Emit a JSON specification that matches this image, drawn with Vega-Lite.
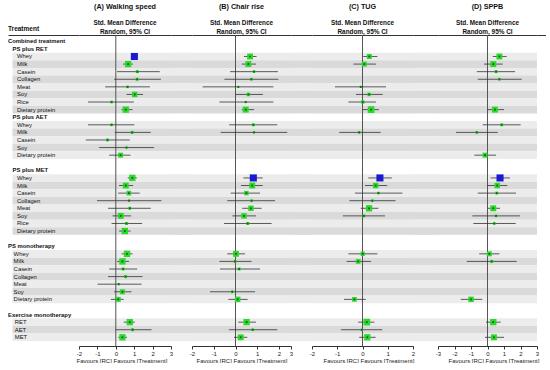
{
"$schema": "https://vega.github.io/schema/vega-lite/v6.json",
"padding": {"left": 8, "top": 3, "right": 0, "bottom": 0},
"bounds": "flush",
"spacing": 0,
"background": "white",
"config": {
 "font": "Liberation Sans",
 "view": {"stroke": null},
 "axis": {"grid": false, "domainColor": "#333", "tickColor": "#333", "labelColor": "#222", "titleColor": "#222"},
 "title": {"fontSize": 7.2, "fontWeight": "bold", "color": "#111", "subtitleFontSize": 6.4, "subtitleFontWeight": "bold", "subtitleColor": "#111", "subtitleLineHeight": 8.7, "subtitlePadding": 10, "offset": -1}
},
"datasets": {
 "rows": [
  {"key":"CT","label":"Combined treatment","lvl":0,"bold":1,"shade":0},
  {"key":"RET","label":"PS plus RET","lvl":1,"bold":1,"shade":0},
  {"key":"RET-Whey","label":"Whey","lvl":2,"bold":0,"shade":1},
  {"key":"RET-Milk","label":"Milk","lvl":2,"bold":0,"shade":2},
  {"key":"RET-Casein","label":"Casein","lvl":2,"bold":0,"shade":1},
  {"key":"RET-Collagen","label":"Collagen","lvl":2,"bold":0,"shade":2},
  {"key":"RET-Meat","label":"Meat","lvl":2,"bold":0,"shade":1},
  {"key":"RET-Soy","label":"Soy","lvl":2,"bold":0,"shade":2},
  {"key":"RET-Rice","label":"Rice","lvl":2,"bold":0,"shade":1},
  {"key":"RET-DP","label":"Dietary protein","lvl":2,"bold":0,"shade":2},
  {"key":"AET","label":"PS plus AET","lvl":1,"bold":1,"shade":0},
  {"key":"AET-Whey","label":"Whey","lvl":2,"bold":0,"shade":1},
  {"key":"AET-Milk","label":"Milk","lvl":2,"bold":0,"shade":2},
  {"key":"AET-Casein","label":"Casein","lvl":2,"bold":0,"shade":1},
  {"key":"AET-Soy","label":"Soy","lvl":2,"bold":0,"shade":2},
  {"key":"AET-DP","label":"Dietary protein","lvl":2,"bold":0,"shade":1},
  {"key":"b1","label":"","lvl":0,"bold":0,"shade":0},
  {"key":"MET","label":"PS plus MET","lvl":1,"bold":1,"shade":0},
  {"key":"MET-Whey","label":"Whey","lvl":2,"bold":0,"shade":1},
  {"key":"MET-Milk","label":"Milk","lvl":2,"bold":0,"shade":2},
  {"key":"MET-Casein","label":"Casein","lvl":2,"bold":0,"shade":1},
  {"key":"MET-Collagen","label":"Collagen","lvl":2,"bold":0,"shade":2},
  {"key":"MET-Meat","label":"Meat","lvl":2,"bold":0,"shade":1},
  {"key":"MET-Soy","label":"Soy","lvl":2,"bold":0,"shade":2},
  {"key":"MET-Rice","label":"Rice","lvl":2,"bold":0,"shade":1},
  {"key":"MET-DP","label":"Dietary protein","lvl":2,"bold":0,"shade":2},
  {"key":"b2","label":"","lvl":0,"bold":0,"shade":0},
  {"key":"MONO","label":"PS monotherapy","lvl":0,"bold":1,"shade":0},
  {"key":"MONO-Whey","label":"Whey","lvl":1.25,"bold":0,"shade":1},
  {"key":"MONO-Milk","label":"Milk","lvl":1.25,"bold":0,"shade":2},
  {"key":"MONO-Casein","label":"Casein","lvl":1.25,"bold":0,"shade":1},
  {"key":"MONO-Collagen","label":"Collagen","lvl":1.25,"bold":0,"shade":2},
  {"key":"MONO-Meat","label":"Meat","lvl":1.25,"bold":0,"shade":1},
  {"key":"MONO-Soy","label":"Soy","lvl":1.25,"bold":0,"shade":2},
  {"key":"MONO-DP","label":"Dietary protein","lvl":1.25,"bold":0,"shade":1},
  {"key":"b3","label":"","lvl":0,"bold":0,"shade":0},
  {"key":"EX","label":"Exercise monotherapy","lvl":0,"bold":1,"shade":0},
  {"key":"EX-RET","label":"RET","lvl":1.5,"bold":0,"shade":1},
  {"key":"EX-AET","label":"AET","lvl":1.5,"bold":0,"shade":2},
  {"key":"EX-MET","label":"MET","lvl":1.5,"bold":0,"shade":1}
 ],
 "est": [
  {"p":"A","key":"RET-Whey","m":1.01,"lo":0.85,"hi":1.17,"w":50,"c":"b"},
  {"p":"A","key":"RET-Milk","m":0.67,"lo":0.40,"hi":0.92,"w":40,"c":"g"},
  {"p":"A","key":"RET-Casein","m":1.17,"lo":0.07,"hi":2.39,"w":9,"c":"g"},
  {"p":"A","key":"RET-Collagen","m":1.16,"lo":-0.09,"hi":2.45,"w":9,"c":"g"},
  {"p":"A","key":"RET-Meat","m":0.64,"lo":-0.58,"hi":1.85,"w":7,"c":"g"},
  {"p":"A","key":"RET-Soy","m":1.03,"lo":0.58,"hi":1.48,"w":30,"c":"g"},
  {"p":"A","key":"RET-Rice","m":-0.23,"lo":-1.51,"hi":0.98,"w":7,"c":"g"},
  {"p":"A","key":"RET-DP","m":0.54,"lo":0.31,"hi":0.91,"w":40,"c":"g"},
  {"p":"A","key":"AET-Whey","m":-0.23,"lo":-1.51,"hi":1.01,"w":7,"c":"g"},
  {"p":"A","key":"AET-Milk","m":0.89,"lo":-0.05,"hi":1.90,"w":9,"c":"g"},
  {"p":"A","key":"AET-Casein","m":-0.45,"lo":-1.63,"hi":0.76,"w":9,"c":"g"},
  {"p":"A","key":"AET-Soy","m":0.58,"lo":-0.91,"hi":2.08,"w":5,"c":"g"},
  {"p":"A","key":"AET-DP","m":0.26,"lo":-0.36,"hi":0.80,"w":25,"c":"g"},
  {"p":"A","key":"MET-Whey","m":0.90,"lo":0.65,"hi":1.14,"w":40,"c":"g"},
  {"p":"A","key":"MET-Milk","m":0.54,"lo":0.18,"hi":0.94,"w":35,"c":"g"},
  {"p":"A","key":"MET-Casein","m":0.71,"lo":0.13,"hi":1.30,"w":22,"c":"g"},
  {"p":"A","key":"MET-Collagen","m":0.72,"lo":-1.02,"hi":2.48,"w":5,"c":"g"},
  {"p":"A","key":"MET-Meat","m":0.76,"lo":-0.42,"hi":1.90,"w":9,"c":"g"},
  {"p":"A","key":"MET-Soy","m":0.27,"lo":-0.18,"hi":0.83,"w":35,"c":"g"},
  {"p":"A","key":"MET-Rice","m":0.58,"lo":-0.23,"hi":1.43,"w":9,"c":"g"},
  {"p":"A","key":"MET-DP","m":0.49,"lo":0.18,"hi":0.80,"w":40,"c":"g"},
  {"p":"A","key":"MONO-Whey","m":0.61,"lo":0.31,"hi":0.91,"w":40,"c":"g"},
  {"p":"A","key":"MONO-Milk","m":0.36,"lo":0.07,"hi":0.72,"w":40,"c":"g"},
  {"p":"A","key":"MONO-Casein","m":0.40,"lo":-0.36,"hi":1.16,"w":9,"c":"g"},
  {"p":"A","key":"MONO-Collagen","m":0.53,"lo":-0.42,"hi":1.45,"w":9,"c":"g"},
  {"p":"A","key":"MONO-Meat","m":0.16,"lo":-0.99,"hi":1.40,"w":5,"c":"g"},
  {"p":"A","key":"MONO-Soy","m":0.36,"lo":-0.09,"hi":0.85,"w":25,"c":"g"},
  {"p":"A","key":"MONO-DP","m":0.13,"lo":-0.27,"hi":0.43,"w":25,"c":"g"},
  {"p":"A","key":"EX-RET","m":0.76,"lo":0.43,"hi":1.03,"w":40,"c":"g"},
  {"p":"A","key":"EX-AET","m":0.91,"lo":-0.02,"hi":1.94,"w":9,"c":"g"},
  {"p":"A","key":"EX-MET","m":0.36,"lo":0.13,"hi":0.61,"w":40,"c":"g"},
  {"p":"B","key":"RET-Whey","m":0.67,"lo":0.39,"hi":0.97,"w":35,"c":"g"},
  {"p":"B","key":"RET-Milk","m":0.59,"lo":0.29,"hi":0.94,"w":35,"c":"g"},
  {"p":"B","key":"RET-Casein","m":0.85,"lo":-0.25,"hi":1.95,"w":7,"c":"g"},
  {"p":"B","key":"RET-Collagen","m":0.73,"lo":-0.51,"hi":1.97,"w":7,"c":"g"},
  {"p":"B","key":"RET-Meat","m":0.13,"lo":-1.51,"hi":1.74,"w":4,"c":"g"},
  {"p":"B","key":"RET-Soy","m":0.59,"lo":-0.02,"hi":1.26,"w":12,"c":"g"},
  {"p":"B","key":"RET-Rice","m":0.47,"lo":-0.74,"hi":1.74,"w":5,"c":"g"},
  {"p":"B","key":"RET-DP","m":0.47,"lo":0.29,"hi":0.86,"w":35,"c":"g"},
  {"p":"B","key":"AET-Whey","m":0.82,"lo":-0.29,"hi":1.92,"w":9,"c":"g"},
  {"p":"B","key":"AET-Milk","m":0.85,"lo":-0.68,"hi":2.69,"w":5,"c":"g"},
  {"p":"B","key":"MET-Whey","m":0.82,"lo":0.36,"hi":1.25,"w":50,"c":"b"},
  {"p":"B","key":"MET-Milk","m":0.77,"lo":0.25,"hi":1.25,"w":35,"c":"g"},
  {"p":"B","key":"MET-Casein","m":0.50,"lo":-0.22,"hi":1.13,"w":20,"c":"g"},
  {"p":"B","key":"MET-Collagen","m":0.74,"lo":-0.38,"hi":1.82,"w":7,"c":"g"},
  {"p":"B","key":"MET-Meat","m":0.71,"lo":0.31,"hi":1.20,"w":30,"c":"g"},
  {"p":"B","key":"MET-Soy","m":0.39,"lo":-0.15,"hi":0.94,"w":30,"c":"g"},
  {"p":"B","key":"MET-Rice","m":0.56,"lo":-0.53,"hi":1.66,"w":9,"c":"g"},
  {"p":"B","key":"MONO-Whey","m":0.02,"lo":-0.38,"hi":0.44,"w":35,"c":"g"},
  {"p":"B","key":"MONO-Milk","m":-0.02,"lo":-0.74,"hi":0.74,"w":9,"c":"g"},
  {"p":"B","key":"MONO-Casein","m":0.17,"lo":-0.71,"hi":1.13,"w":9,"c":"g"},
  {"p":"B","key":"MONO-Soy","m":-0.15,"lo":-1.17,"hi":0.90,"w":7,"c":"g"},
  {"p":"B","key":"MONO-DP","m":0.10,"lo":-0.33,"hi":0.56,"w":30,"c":"g"},
  {"p":"B","key":"EX-RET","m":0.51,"lo":0.13,"hi":0.94,"w":40,"c":"g"},
  {"p":"B","key":"EX-AET","m":0.79,"lo":-0.30,"hi":1.92,"w":7,"c":"g"},
  {"p":"B","key":"EX-MET","m":0.24,"lo":-0.07,"hi":0.54,"w":35,"c":"g"},
  {"p":"C","key":"RET-Whey","m":0.27,"lo":0.03,"hi":0.59,"w":25,"c":"g"},
  {"p":"C","key":"RET-Milk","m":0.07,"lo":-0.36,"hi":0.53,"w":25,"c":"g"},
  {"p":"C","key":"RET-Meat","m":-0.07,"lo":-1.09,"hi":0.93,"w":5,"c":"g"},
  {"p":"C","key":"RET-Soy","m":0.26,"lo":-0.26,"hi":0.80,"w":12,"c":"g"},
  {"p":"C","key":"RET-Rice","m":0.01,"lo":-0.56,"hi":0.53,"w":12,"c":"g"},
  {"p":"C","key":"RET-DP","m":0.34,"lo":0.01,"hi":0.65,"w":45,"c":"g"},
  {"p":"C","key":"AET-Milk","m":-0.13,"lo":-0.92,"hi":0.72,"w":7,"c":"g"},
  {"p":"C","key":"MET-Whey","m":0.69,"lo":0.23,"hi":1.16,"w":50,"c":"b"},
  {"p":"C","key":"MET-Milk","m":0.52,"lo":0.10,"hi":0.98,"w":30,"c":"g"},
  {"p":"C","key":"MET-Casein","m":0.63,"lo":-0.30,"hi":1.58,"w":7,"c":"g"},
  {"p":"C","key":"MET-Collagen","m":0.39,"lo":-0.52,"hi":1.31,"w":7,"c":"g"},
  {"p":"C","key":"MET-Meat","m":0.26,"lo":-0.07,"hi":0.63,"w":40,"c":"g"},
  {"p":"C","key":"MET-Soy","m":0.06,"lo":-0.78,"hi":0.89,"w":7,"c":"g"},
  {"p":"C","key":"MONO-Whey","m":0.01,"lo":-0.56,"hi":0.59,"w":18,"c":"g"},
  {"p":"C","key":"MONO-Milk","m":-0.17,"lo":-0.63,"hi":0.34,"w":22,"c":"g"},
  {"p":"C","key":"MONO-DP","m":-0.32,"lo":-0.73,"hi":0.13,"w":22,"c":"g"},
  {"p":"C","key":"EX-RET","m":0.17,"lo":-0.17,"hi":0.47,"w":45,"c":"g"},
  {"p":"C","key":"EX-AET","m":-0.03,"lo":-0.85,"hi":0.78,"w":5,"c":"g"},
  {"p":"C","key":"EX-MET","m":0.19,"lo":-0.13,"hi":0.52,"w":40,"c":"g"},
  {"p":"D","key":"RET-Whey","m":0.72,"lo":0.32,"hi":1.16,"w":35,"c":"g"},
  {"p":"D","key":"RET-Milk","m":0.35,"lo":-0.21,"hi":0.92,"w":35,"c":"g"},
  {"p":"D","key":"RET-Casein","m":0.52,"lo":-0.65,"hi":1.67,"w":9,"c":"g"},
  {"p":"D","key":"RET-Collagen","m":0.72,"lo":-0.59,"hi":2.07,"w":7,"c":"g"},
  {"p":"D","key":"RET-DP","m":0.45,"lo":-0.01,"hi":1.00,"w":35,"c":"g"},
  {"p":"D","key":"AET-Whey","m":0.86,"lo":-0.29,"hi":2.01,"w":9,"c":"g"},
  {"p":"D","key":"AET-Milk","m":-0.65,"lo":-1.91,"hi":0.62,"w":7,"c":"g"},
  {"p":"D","key":"AET-DP","m":-0.15,"lo":-0.80,"hi":0.52,"w":25,"c":"g"},
  {"p":"D","key":"MET-Whey","m":0.76,"lo":0.19,"hi":1.36,"w":50,"c":"b"},
  {"p":"D","key":"MET-Milk","m":0.59,"lo":-0.01,"hi":1.20,"w":30,"c":"g"},
  {"p":"D","key":"MET-Casein","m":0.56,"lo":-0.59,"hi":1.73,"w":9,"c":"g"},
  {"p":"D","key":"MET-Meat","m":0.35,"lo":0.01,"hi":0.76,"w":35,"c":"g"},
  {"p":"D","key":"MET-Soy","m":0.52,"lo":-0.92,"hi":1.97,"w":7,"c":"g"},
  {"p":"D","key":"MET-Rice","m":0.41,"lo":-0.86,"hi":1.71,"w":7,"c":"g"},
  {"p":"D","key":"MONO-Whey","m":0.11,"lo":-0.50,"hi":0.72,"w":25,"c":"g"},
  {"p":"D","key":"MONO-Milk","m":0.25,"lo":-1.26,"hi":1.77,"w":9,"c":"g"},
  {"p":"D","key":"MONO-DP","m":-1.00,"lo":-1.62,"hi":-0.32,"w":30,"c":"g"},
  {"p":"D","key":"EX-RET","m":0.35,"lo":-0.09,"hi":0.80,"w":40,"c":"g"},
  {"p":"D","key":"EX-MET","m":0.39,"lo":-0.15,"hi":1.00,"w":35,"c":"g"}
 ]
},
"hconcat": [
 {
  "width": 71, "height": 311,
  "title": {"text": "Treatment", "anchor": "start", "fontSize": 6.5, "offset": 3},
  "resolve": {"axis": {"x": "independent"}},
  "layer": [
   {"data": {"name": "rows"}, "transform": [{"filter": "datum.shade > 0"}], "mark": "rect",
    "encoding": {
     "y": {"field":"key","type":"ordinal","scale":{"type":"band","domain":["CT","RET","RET-Whey","RET-Milk","RET-Casein","RET-Collagen","RET-Meat","RET-Soy","RET-Rice","RET-DP","AET","AET-Whey","AET-Milk","AET-Casein","AET-Soy","AET-DP","b1","MET","MET-Whey","MET-Milk","MET-Casein","MET-Collagen","MET-Meat","MET-Soy","MET-Rice","MET-DP","b2","MONO","MONO-Whey","MONO-Milk","MONO-Casein","MONO-Collagen","MONO-Meat","MONO-Soy","MONO-DP","b3","EX","EX-RET","EX-AET","EX-MET"],"paddingInner":0,"paddingOuter":0.4875,"align":0.34},"axis":null},
     "x": {"datum": 1, "type": "quantitative", "scale": {"domain": [0, 15.78], "nice": false, "zero": false}, "axis": {"orient": "top", "domain": true, "ticks": false, "labels": false, "title": null, "domainWidth": 1}},
     "x2": {"datum": 15.78},
     "fill": {"field": "shade", "type": "nominal", "scale": {"domain": [1, 2], "range": ["#ececec", "#dadada"]}, "legend": null}
    }},
   {"data": {"name": "rows"}, "transform": [{"filter": "datum.bold == 1"}],
    "mark": {"type": "text", "align": "left", "baseline": "middle", "fontSize": 5.9, "fontWeight": "bold", "color": "#111"},
    "encoding": {
     "y": {"field":"key","type":"ordinal","scale":{"type":"band","domain":["CT","RET","RET-Whey","RET-Milk","RET-Casein","RET-Collagen","RET-Meat","RET-Soy","RET-Rice","RET-DP","AET","AET-Whey","AET-Milk","AET-Casein","AET-Soy","AET-DP","b1","MET","MET-Whey","MET-Milk","MET-Casein","MET-Collagen","MET-Meat","MET-Soy","MET-Rice","MET-DP","b2","MONO","MONO-Whey","MONO-Milk","MONO-Casein","MONO-Collagen","MONO-Meat","MONO-Soy","MONO-DP","b3","EX","EX-RET","EX-AET","EX-MET"],"paddingInner":0,"paddingOuter":0.4875,"align":0.34},"axis":null},
     "x": {"field": "lvl", "type": "quantitative", "scale": {"domain": [0, 15.78], "nice": false, "zero": false}, "axis": null},
     "text": {"field": "label"}
    }},
   {"data": {"name": "rows"}, "transform": [{"filter": "datum.bold == 0 && datum.label != ''"}],
    "mark": {"type": "text", "align": "left", "baseline": "middle", "fontSize": 5.9, "color": "#111"},
    "encoding": {
     "y": {"field":"key","type":"ordinal","scale":{"type":"band","domain":["CT","RET","RET-Whey","RET-Milk","RET-Casein","RET-Collagen","RET-Meat","RET-Soy","RET-Rice","RET-DP","AET","AET-Whey","AET-Milk","AET-Casein","AET-Soy","AET-DP","b1","MET","MET-Whey","MET-Milk","MET-Casein","MET-Collagen","MET-Meat","MET-Soy","MET-Rice","MET-DP","b2","MONO","MONO-Whey","MONO-Milk","MONO-Casein","MONO-Collagen","MONO-Meat","MONO-Soy","MONO-DP","b3","EX","EX-RET","EX-AET","EX-MET"],"paddingInner":0,"paddingOuter":0.4875,"align":0.34},"axis":null},
     "x": {"field": "lvl", "type": "quantitative", "scale": {"domain": [0, 15.78], "nice": false, "zero": false}, "axis": null},
     "text": {"field": "label"}
    }}
  ]
 },
 {
  "width": 92, "height": 311,
  "title": {"text": "(A) Walking speed", "subtitle": ["Std. Mean Difference", "Random, 95% CI"]},
  "resolve": {"axis": {"x": "independent"}},
  "layer": [
   {"data": {"name": "rows"}, "transform": [{"filter": "datum.shade > 0"}], "mark": "rect",
    "encoding": {
     "y": {"field":"key","type":"ordinal","scale":{"type":"band","domain":["CT","RET","RET-Whey","RET-Milk","RET-Casein","RET-Collagen","RET-Meat","RET-Soy","RET-Rice","RET-DP","AET","AET-Whey","AET-Milk","AET-Casein","AET-Soy","AET-DP","b1","MET","MET-Whey","MET-Milk","MET-Casein","MET-Collagen","MET-Meat","MET-Soy","MET-Rice","MET-DP","b2","MONO","MONO-Whey","MONO-Milk","MONO-Casein","MONO-Collagen","MONO-Meat","MONO-Soy","MONO-DP","b3","EX","EX-RET","EX-AET","EX-MET"],"paddingInner":0,"paddingOuter":0.4875,"align":0.34},"axis":null},
     "x": {"datum": -2, "type": "quantitative", "scale": {"domain": [-2, 3], "nice": false, "zero": false}, "axis": {"orient": "top", "domain": true, "ticks": false, "labels": false, "title": null, "domainWidth": 1}},
     "x2": {"datum": 3},
     "fill": {"field": "shade", "type": "nominal", "scale": {"domain": [1, 2], "range": ["#ececec", "#dadada"]}, "legend": null}
    }},
   {"data": {"values": [{}]}, "mark": {"type": "rule", "color": "#555", "strokeWidth": 1},
    "encoding": {"x": {"datum": 0, "type": "quantitative", "scale": {"domain": [-2, 3], "nice": false, "zero": false}, "axis": null}}},
   {"data": {"name": "est"}, "transform": [{"filter": "datum.p == 'A'"}], "mark": {"type": "rule", "color": "#333", "strokeWidth": 0.8},
    "encoding": {
     "y": {"field":"key","type":"ordinal","scale":{"type":"band","domain":["CT","RET","RET-Whey","RET-Milk","RET-Casein","RET-Collagen","RET-Meat","RET-Soy","RET-Rice","RET-DP","AET","AET-Whey","AET-Milk","AET-Casein","AET-Soy","AET-DP","b1","MET","MET-Whey","MET-Milk","MET-Casein","MET-Collagen","MET-Meat","MET-Soy","MET-Rice","MET-DP","b2","MONO","MONO-Whey","MONO-Milk","MONO-Casein","MONO-Collagen","MONO-Meat","MONO-Soy","MONO-DP","b3","EX","EX-RET","EX-AET","EX-MET"],"paddingInner":0,"paddingOuter":0.4875,"align":0.34},"axis":null},
     "x": {"field": "lo", "type": "quantitative", "scale": {"domain": [-2, 3], "nice": false, "zero": false},
      "axis": {"orient": "bottom", "values": [-2, -1, 0, 1, 2, 3], "labelExpr": "datum.value + ''", "labelFontSize": 6, "labelPadding": 1, "labelFlush": false, "tickSize": 3, "domainWidth": 1, "title": "Favours [RC]  Favours [Treatment]", "titleFontSize": 6, "titleFontWeight": "normal", "titleAlign": "left", "titleX": -3, "titleY": 16, "titleBaseline": "alphabetic"}},
     "x2": {"field": "hi"}
    }},
   {"data": {"name": "est"}, "transform": [{"filter": "datum.p == 'A'"}], "mark": {"type": "point", "shape": "square", "filled": true, "opacity": 1, "strokeWidth": 0},
    "encoding": {
     "y": {"field":"key","type":"ordinal","scale":{"type":"band","domain":["CT","RET","RET-Whey","RET-Milk","RET-Casein","RET-Collagen","RET-Meat","RET-Soy","RET-Rice","RET-DP","AET","AET-Whey","AET-Milk","AET-Casein","AET-Soy","AET-DP","b1","MET","MET-Whey","MET-Milk","MET-Casein","MET-Collagen","MET-Meat","MET-Soy","MET-Rice","MET-DP","b2","MONO","MONO-Whey","MONO-Milk","MONO-Casein","MONO-Collagen","MONO-Meat","MONO-Soy","MONO-DP","b3","EX","EX-RET","EX-AET","EX-MET"],"paddingInner":0,"paddingOuter":0.4875,"align":0.34},"axis":null},
     "x": {"field": "m", "type": "quantitative", "scale": {"domain": [-2, 3], "nice": false, "zero": false}, "axis": null},
     "size": {"field": "w", "type": "quantitative", "scale": {"domain": [0, 50], "range": [0, 50]}, "legend": null},
     "color": {"field": "c", "type": "nominal", "scale": {"domain": ["g", "b"], "range": ["#2bd82b", "#1a1ad0"]}, "legend": null}
    }},
   {"data": {"name": "est"}, "transform": [{"filter": "datum.p == 'A' && datum.c == 'g'"}], "mark": {"type": "point", "shape": "square", "filled": true, "opacity": 1, "size": 3, "color": "#0b5e0b"},
    "encoding": {
     "y": {"field":"key","type":"ordinal","scale":{"type":"band","domain":["CT","RET","RET-Whey","RET-Milk","RET-Casein","RET-Collagen","RET-Meat","RET-Soy","RET-Rice","RET-DP","AET","AET-Whey","AET-Milk","AET-Casein","AET-Soy","AET-DP","b1","MET","MET-Whey","MET-Milk","MET-Casein","MET-Collagen","MET-Meat","MET-Soy","MET-Rice","MET-DP","b2","MONO","MONO-Whey","MONO-Milk","MONO-Casein","MONO-Collagen","MONO-Meat","MONO-Soy","MONO-DP","b3","EX","EX-RET","EX-AET","EX-MET"],"paddingInner":0,"paddingOuter":0.4875,"align":0.34},"axis":null},
     "x": {"field": "m", "type": "quantitative", "scale": {"domain": [-2, 3], "nice": false, "zero": false}, "axis": null}
    }}
  ]
 },
 {
  "width": 21, "height": 311,
  "data": {"name": "rows"}, "transform": [{"filter": "datum.shade > 0"}], "mark": "rect",
  "encoding": {
   "y": {"field":"key","type":"ordinal","scale":{"type":"band","domain":["CT","RET","RET-Whey","RET-Milk","RET-Casein","RET-Collagen","RET-Meat","RET-Soy","RET-Rice","RET-DP","AET","AET-Whey","AET-Milk","AET-Casein","AET-Soy","AET-DP","b1","MET","MET-Whey","MET-Milk","MET-Casein","MET-Collagen","MET-Meat","MET-Soy","MET-Rice","MET-DP","b2","MONO","MONO-Whey","MONO-Milk","MONO-Casein","MONO-Collagen","MONO-Meat","MONO-Soy","MONO-DP","b3","EX","EX-RET","EX-AET","EX-MET"],"paddingInner":0,"paddingOuter":0.4875,"align":0.34},"axis":null},
   "x": {"datum": 0, "type": "quantitative", "scale": {"domain": [0, 1], "nice": false, "zero": false}, "axis": {"orient": "top", "domain": true, "ticks": false, "labels": false, "title": null, "domainWidth": 1}},
   "x2": {"datum": 1},
   "fill": {"field": "shade", "type": "nominal", "scale": {"domain": [1, 2], "range": ["#ececec", "#dadada"]}, "legend": null}
  }
 },
 {
  "width": 99, "height": 311,
  "title": {"text": "(B) Chair rise", "subtitle": ["Std. Mean Difference", "Random, 95% CI"]},
  "resolve": {"axis": {"x": "independent"}},
  "layer": [
   {"data": {"name": "rows"}, "transform": [{"filter": "datum.shade > 0"}], "mark": "rect",
    "encoding": {
     "y": {"field":"key","type":"ordinal","scale":{"type":"band","domain":["CT","RET","RET-Whey","RET-Milk","RET-Casein","RET-Collagen","RET-Meat","RET-Soy","RET-Rice","RET-DP","AET","AET-Whey","AET-Milk","AET-Casein","AET-Soy","AET-DP","b1","MET","MET-Whey","MET-Milk","MET-Casein","MET-Collagen","MET-Meat","MET-Soy","MET-Rice","MET-DP","b2","MONO","MONO-Whey","MONO-Milk","MONO-Casein","MONO-Collagen","MONO-Meat","MONO-Soy","MONO-DP","b3","EX","EX-RET","EX-AET","EX-MET"],"paddingInner":0,"paddingOuter":0.4875,"align":0.34},"axis":null},
     "x": {"datum": -2, "type": "quantitative", "scale": {"domain": [-2, 2, 3], "range": [0, 87, 99], "nice": false, "zero": false}, "axis": {"orient": "top", "domain": true, "ticks": false, "labels": false, "title": null, "domainWidth": 1}},
     "x2": {"datum": 3},
     "fill": {"field": "shade", "type": "nominal", "scale": {"domain": [1, 2], "range": ["#ececec", "#dadada"]}, "legend": null}
    }},
   {"data": {"values": [{}]}, "mark": {"type": "rule", "color": "#555", "strokeWidth": 1},
    "encoding": {"x": {"datum": 0, "type": "quantitative", "scale": {"domain": [-2, 2, 3], "range": [0, 87, 99], "nice": false, "zero": false}, "axis": null}}},
   {"data": {"name": "est"}, "transform": [{"filter": "datum.p == 'B'"}], "mark": {"type": "rule", "color": "#333", "strokeWidth": 0.8},
    "encoding": {
     "y": {"field":"key","type":"ordinal","scale":{"type":"band","domain":["CT","RET","RET-Whey","RET-Milk","RET-Casein","RET-Collagen","RET-Meat","RET-Soy","RET-Rice","RET-DP","AET","AET-Whey","AET-Milk","AET-Casein","AET-Soy","AET-DP","b1","MET","MET-Whey","MET-Milk","MET-Casein","MET-Collagen","MET-Meat","MET-Soy","MET-Rice","MET-DP","b2","MONO","MONO-Whey","MONO-Milk","MONO-Casein","MONO-Collagen","MONO-Meat","MONO-Soy","MONO-DP","b3","EX","EX-RET","EX-AET","EX-MET"],"paddingInner":0,"paddingOuter":0.4875,"align":0.34},"axis":null},
     "x": {"field": "lo", "type": "quantitative", "scale": {"domain": [-2, 2, 3], "range": [0, 87, 99], "nice": false, "zero": false},
      "axis": {"orient": "bottom", "values": [-2, -1, 0, 1, 2, 3], "labelExpr": "datum.value + ''", "labelFontSize": 6, "labelPadding": 1, "labelFlush": false, "tickSize": 3, "domainWidth": 1, "title": "Favours [RC]  Favours [Treatment]", "titleFontSize": 6, "titleFontWeight": "normal", "titleAlign": "left", "titleX": 4, "titleY": 16, "titleBaseline": "alphabetic"}},
     "x2": {"field": "hi"}
    }},
   {"data": {"name": "est"}, "transform": [{"filter": "datum.p == 'B'"}], "mark": {"type": "point", "shape": "square", "filled": true, "opacity": 1, "strokeWidth": 0},
    "encoding": {
     "y": {"field":"key","type":"ordinal","scale":{"type":"band","domain":["CT","RET","RET-Whey","RET-Milk","RET-Casein","RET-Collagen","RET-Meat","RET-Soy","RET-Rice","RET-DP","AET","AET-Whey","AET-Milk","AET-Casein","AET-Soy","AET-DP","b1","MET","MET-Whey","MET-Milk","MET-Casein","MET-Collagen","MET-Meat","MET-Soy","MET-Rice","MET-DP","b2","MONO","MONO-Whey","MONO-Milk","MONO-Casein","MONO-Collagen","MONO-Meat","MONO-Soy","MONO-DP","b3","EX","EX-RET","EX-AET","EX-MET"],"paddingInner":0,"paddingOuter":0.4875,"align":0.34},"axis":null},
     "x": {"field": "m", "type": "quantitative", "scale": {"domain": [-2, 2, 3], "range": [0, 87, 99], "nice": false, "zero": false}, "axis": null},
     "size": {"field": "w", "type": "quantitative", "scale": {"domain": [0, 50], "range": [0, 50]}, "legend": null},
     "color": {"field": "c", "type": "nominal", "scale": {"domain": ["g", "b"], "range": ["#2bd82b", "#1a1ad0"]}, "legend": null}
    }},
   {"data": {"name": "est"}, "transform": [{"filter": "datum.p == 'B' && datum.c == 'g'"}], "mark": {"type": "point", "shape": "square", "filled": true, "opacity": 1, "size": 3, "color": "#0b5e0b"},
    "encoding": {
     "y": {"field":"key","type":"ordinal","scale":{"type":"band","domain":["CT","RET","RET-Whey","RET-Milk","RET-Casein","RET-Collagen","RET-Meat","RET-Soy","RET-Rice","RET-DP","AET","AET-Whey","AET-Milk","AET-Casein","AET-Soy","AET-DP","b1","MET","MET-Whey","MET-Milk","MET-Casein","MET-Collagen","MET-Meat","MET-Soy","MET-Rice","MET-DP","b2","MONO","MONO-Whey","MONO-Milk","MONO-Casein","MONO-Collagen","MONO-Meat","MONO-Soy","MONO-DP","b3","EX","EX-RET","EX-AET","EX-MET"],"paddingInner":0,"paddingOuter":0.4875,"align":0.34},"axis":null},
     "x": {"field": "m", "type": "quantitative", "scale": {"domain": [-2, 2, 3], "range": [0, 87, 99], "nice": false, "zero": false}, "axis": null}
    }}
  ]
 },
 {
  "width": 21, "height": 311,
  "data": {"name": "rows"}, "transform": [{"filter": "datum.shade > 0"}], "mark": "rect",
  "encoding": {
   "y": {"field":"key","type":"ordinal","scale":{"type":"band","domain":["CT","RET","RET-Whey","RET-Milk","RET-Casein","RET-Collagen","RET-Meat","RET-Soy","RET-Rice","RET-DP","AET","AET-Whey","AET-Milk","AET-Casein","AET-Soy","AET-DP","b1","MET","MET-Whey","MET-Milk","MET-Casein","MET-Collagen","MET-Meat","MET-Soy","MET-Rice","MET-DP","b2","MONO","MONO-Whey","MONO-Milk","MONO-Casein","MONO-Collagen","MONO-Meat","MONO-Soy","MONO-DP","b3","EX","EX-RET","EX-AET","EX-MET"],"paddingInner":0,"paddingOuter":0.4875,"align":0.34},"axis":null},
   "x": {"datum": 0, "type": "quantitative", "scale": {"domain": [0, 1], "nice": false, "zero": false}, "axis": {"orient": "top", "domain": true, "ticks": false, "labels": false, "title": null, "domainWidth": 1}},
   "x2": {"datum": 1},
   "fill": {"field": "shade", "type": "nominal", "scale": {"domain": [1, 2], "range": ["#ececec", "#dadada"]}, "legend": null}
  }
 },
 {
  "width": 101, "height": 311,
  "title": {"text": "(C) TUG", "subtitle": ["Std. Mean Difference", "Random, 95% CI"]},
  "resolve": {"axis": {"x": "independent"}},
  "layer": [
   {"data": {"name": "rows"}, "transform": [{"filter": "datum.shade > 0"}], "mark": "rect",
    "encoding": {
     "y": {"field":"key","type":"ordinal","scale":{"type":"band","domain":["CT","RET","RET-Whey","RET-Milk","RET-Casein","RET-Collagen","RET-Meat","RET-Soy","RET-Rice","RET-DP","AET","AET-Whey","AET-Milk","AET-Casein","AET-Soy","AET-DP","b1","MET","MET-Whey","MET-Milk","MET-Casein","MET-Collagen","MET-Meat","MET-Soy","MET-Rice","MET-DP","b2","MONO","MONO-Whey","MONO-Milk","MONO-Casein","MONO-Collagen","MONO-Meat","MONO-Soy","MONO-DP","b3","EX","EX-RET","EX-AET","EX-MET"],"paddingInner":0,"paddingOuter":0.4875,"align":0.34},"axis":null},
     "x": {"datum": -2, "type": "quantitative", "scale": {"domain": [-2, 2], "nice": false, "zero": false}, "axis": {"orient": "top", "domain": true, "ticks": false, "labels": false, "title": null, "domainWidth": 1}},
     "x2": {"datum": 2},
     "fill": {"field": "shade", "type": "nominal", "scale": {"domain": [1, 2], "range": ["#ececec", "#dadada"]}, "legend": null}
    }},
   {"data": {"values": [{}]}, "mark": {"type": "rule", "color": "#555", "strokeWidth": 1},
    "encoding": {"x": {"datum": 0, "type": "quantitative", "scale": {"domain": [-2, 2], "nice": false, "zero": false}, "axis": null}}},
   {"data": {"name": "est"}, "transform": [{"filter": "datum.p == 'C'"}], "mark": {"type": "rule", "color": "#333", "strokeWidth": 0.8},
    "encoding": {
     "y": {"field":"key","type":"ordinal","scale":{"type":"band","domain":["CT","RET","RET-Whey","RET-Milk","RET-Casein","RET-Collagen","RET-Meat","RET-Soy","RET-Rice","RET-DP","AET","AET-Whey","AET-Milk","AET-Casein","AET-Soy","AET-DP","b1","MET","MET-Whey","MET-Milk","MET-Casein","MET-Collagen","MET-Meat","MET-Soy","MET-Rice","MET-DP","b2","MONO","MONO-Whey","MONO-Milk","MONO-Casein","MONO-Collagen","MONO-Meat","MONO-Soy","MONO-DP","b3","EX","EX-RET","EX-AET","EX-MET"],"paddingInner":0,"paddingOuter":0.4875,"align":0.34},"axis":null},
     "x": {"field": "lo", "type": "quantitative", "scale": {"domain": [-2, 2], "nice": false, "zero": false},
      "axis": {"orient": "bottom", "values": [-2, -1, 0, 1, 2], "labelExpr": "datum.value + ''", "labelFontSize": 6, "labelPadding": 1, "labelFlush": false, "tickSize": 3, "domainWidth": 1, "title": "Favours [RC]  Favours [Treatment]", "titleFontSize": 6, "titleFontWeight": "normal", "titleAlign": "left", "titleX": 11, "titleY": 16, "titleBaseline": "alphabetic"}},
     "x2": {"field": "hi"}
    }},
   {"data": {"name": "est"}, "transform": [{"filter": "datum.p == 'C'"}], "mark": {"type": "point", "shape": "square", "filled": true, "opacity": 1, "strokeWidth": 0},
    "encoding": {
     "y": {"field":"key","type":"ordinal","scale":{"type":"band","domain":["CT","RET","RET-Whey","RET-Milk","RET-Casein","RET-Collagen","RET-Meat","RET-Soy","RET-Rice","RET-DP","AET","AET-Whey","AET-Milk","AET-Casein","AET-Soy","AET-DP","b1","MET","MET-Whey","MET-Milk","MET-Casein","MET-Collagen","MET-Meat","MET-Soy","MET-Rice","MET-DP","b2","MONO","MONO-Whey","MONO-Milk","MONO-Casein","MONO-Collagen","MONO-Meat","MONO-Soy","MONO-DP","b3","EX","EX-RET","EX-AET","EX-MET"],"paddingInner":0,"paddingOuter":0.4875,"align":0.34},"axis":null},
     "x": {"field": "m", "type": "quantitative", "scale": {"domain": [-2, 2], "nice": false, "zero": false}, "axis": null},
     "size": {"field": "w", "type": "quantitative", "scale": {"domain": [0, 50], "range": [0, 50]}, "legend": null},
     "color": {"field": "c", "type": "nominal", "scale": {"domain": ["g", "b"], "range": ["#2bd82b", "#1a1ad0"]}, "legend": null}
    }},
   {"data": {"name": "est"}, "transform": [{"filter": "datum.p == 'C' && datum.c == 'g'"}], "mark": {"type": "point", "shape": "square", "filled": true, "opacity": 1, "size": 3, "color": "#0b5e0b"},
    "encoding": {
     "y": {"field":"key","type":"ordinal","scale":{"type":"band","domain":["CT","RET","RET-Whey","RET-Milk","RET-Casein","RET-Collagen","RET-Meat","RET-Soy","RET-Rice","RET-DP","AET","AET-Whey","AET-Milk","AET-Casein","AET-Soy","AET-DP","b1","MET","MET-Whey","MET-Milk","MET-Casein","MET-Collagen","MET-Meat","MET-Soy","MET-Rice","MET-DP","b2","MONO","MONO-Whey","MONO-Milk","MONO-Casein","MONO-Collagen","MONO-Meat","MONO-Soy","MONO-DP","b3","EX","EX-RET","EX-AET","EX-MET"],"paddingInner":0,"paddingOuter":0.4875,"align":0.34},"axis":null},
     "x": {"field": "m", "type": "quantitative", "scale": {"domain": [-2, 2], "nice": false, "zero": false}, "axis": null}
    }}
  ]
 },
 {
  "width": 25, "height": 311,
  "data": {"name": "rows"}, "transform": [{"filter": "datum.shade > 0"}], "mark": "rect",
  "encoding": {
   "y": {"field":"key","type":"ordinal","scale":{"type":"band","domain":["CT","RET","RET-Whey","RET-Milk","RET-Casein","RET-Collagen","RET-Meat","RET-Soy","RET-Rice","RET-DP","AET","AET-Whey","AET-Milk","AET-Casein","AET-Soy","AET-DP","b1","MET","MET-Whey","MET-Milk","MET-Casein","MET-Collagen","MET-Meat","MET-Soy","MET-Rice","MET-DP","b2","MONO","MONO-Whey","MONO-Milk","MONO-Casein","MONO-Collagen","MONO-Meat","MONO-Soy","MONO-DP","b3","EX","EX-RET","EX-AET","EX-MET"],"paddingInner":0,"paddingOuter":0.4875,"align":0.34},"axis":null},
   "x": {"datum": 0, "type": "quantitative", "scale": {"domain": [0, 1], "nice": false, "zero": false}, "axis": {"orient": "top", "domain": true, "ticks": false, "labels": false, "title": null, "domainWidth": 1}},
   "x2": {"datum": 1},
   "fill": {"field": "shade", "type": "nominal", "scale": {"domain": [1, 2], "range": ["#ececec", "#dadada"]}, "legend": null}
  }
 },
 {
  "width": 99, "height": 311,
  "title": {"text": "(D) SPPB", "subtitle": ["Std. Mean Difference", "Random, 95% CI"]},
  "resolve": {"axis": {"x": "independent"}},
  "layer": [
   {"data": {"name": "rows"}, "transform": [{"filter": "datum.shade > 0"}], "mark": "rect",
    "encoding": {
     "y": {"field":"key","type":"ordinal","scale":{"type":"band","domain":["CT","RET","RET-Whey","RET-Milk","RET-Casein","RET-Collagen","RET-Meat","RET-Soy","RET-Rice","RET-DP","AET","AET-Whey","AET-Milk","AET-Casein","AET-Soy","AET-DP","b1","MET","MET-Whey","MET-Milk","MET-Casein","MET-Collagen","MET-Meat","MET-Soy","MET-Rice","MET-DP","b2","MONO","MONO-Whey","MONO-Milk","MONO-Casein","MONO-Collagen","MONO-Meat","MONO-Soy","MONO-DP","b3","EX","EX-RET","EX-AET","EX-MET"],"paddingInner":0,"paddingOuter":0.4875,"align":0.34},"axis":null},
     "x": {"datum": -3, "type": "quantitative", "scale": {"domain": [-3, 3], "nice": false, "zero": false}, "axis": {"orient": "top", "domain": true, "ticks": false, "labels": false, "title": null, "domainWidth": 1}},
     "x2": {"datum": 3},
     "fill": {"field": "shade", "type": "nominal", "scale": {"domain": [1, 2], "range": ["#ececec", "#dadada"]}, "legend": null}
    }},
   {"data": {"values": [{}]}, "mark": {"type": "rule", "color": "#555", "strokeWidth": 1},
    "encoding": {"x": {"datum": 0, "type": "quantitative", "scale": {"domain": [-3, 3], "nice": false, "zero": false}, "axis": null}}},
   {"data": {"name": "est"}, "transform": [{"filter": "datum.p == 'D'"}], "mark": {"type": "rule", "color": "#333", "strokeWidth": 0.8},
    "encoding": {
     "y": {"field":"key","type":"ordinal","scale":{"type":"band","domain":["CT","RET","RET-Whey","RET-Milk","RET-Casein","RET-Collagen","RET-Meat","RET-Soy","RET-Rice","RET-DP","AET","AET-Whey","AET-Milk","AET-Casein","AET-Soy","AET-DP","b1","MET","MET-Whey","MET-Milk","MET-Casein","MET-Collagen","MET-Meat","MET-Soy","MET-Rice","MET-DP","b2","MONO","MONO-Whey","MONO-Milk","MONO-Casein","MONO-Collagen","MONO-Meat","MONO-Soy","MONO-DP","b3","EX","EX-RET","EX-AET","EX-MET"],"paddingInner":0,"paddingOuter":0.4875,"align":0.34},"axis":null},
     "x": {"field": "lo", "type": "quantitative", "scale": {"domain": [-3, 3], "nice": false, "zero": false},
      "axis": {"orient": "bottom", "values": [-3, -2, -1, 0, 1, 2, 3], "labelExpr": "datum.value + ''", "labelFontSize": 6, "labelPadding": 1, "labelFlush": false, "tickSize": 3, "domainWidth": 1, "title": "Favours [RC]  Favours [Treatment]", "titleFontSize": 6, "titleFontWeight": "normal", "titleAlign": "left", "titleX": 10, "titleY": 16, "titleBaseline": "alphabetic"}},
     "x2": {"field": "hi"}
    }},
   {"data": {"name": "est"}, "transform": [{"filter": "datum.p == 'D'"}], "mark": {"type": "point", "shape": "square", "filled": true, "opacity": 1, "strokeWidth": 0},
    "encoding": {
     "y": {"field":"key","type":"ordinal","scale":{"type":"band","domain":["CT","RET","RET-Whey","RET-Milk","RET-Casein","RET-Collagen","RET-Meat","RET-Soy","RET-Rice","RET-DP","AET","AET-Whey","AET-Milk","AET-Casein","AET-Soy","AET-DP","b1","MET","MET-Whey","MET-Milk","MET-Casein","MET-Collagen","MET-Meat","MET-Soy","MET-Rice","MET-DP","b2","MONO","MONO-Whey","MONO-Milk","MONO-Casein","MONO-Collagen","MONO-Meat","MONO-Soy","MONO-DP","b3","EX","EX-RET","EX-AET","EX-MET"],"paddingInner":0,"paddingOuter":0.4875,"align":0.34},"axis":null},
     "x": {"field": "m", "type": "quantitative", "scale": {"domain": [-3, 3], "nice": false, "zero": false}, "axis": null},
     "size": {"field": "w", "type": "quantitative", "scale": {"domain": [0, 50], "range": [0, 50]}, "legend": null},
     "color": {"field": "c", "type": "nominal", "scale": {"domain": ["g", "b"], "range": ["#2bd82b", "#1a1ad0"]}, "legend": null}
    }},
   {"data": {"name": "est"}, "transform": [{"filter": "datum.p == 'D' && datum.c == 'g'"}], "mark": {"type": "point", "shape": "square", "filled": true, "opacity": 1, "size": 3, "color": "#0b5e0b"},
    "encoding": {
     "y": {"field":"key","type":"ordinal","scale":{"type":"band","domain":["CT","RET","RET-Whey","RET-Milk","RET-Casein","RET-Collagen","RET-Meat","RET-Soy","RET-Rice","RET-DP","AET","AET-Whey","AET-Milk","AET-Casein","AET-Soy","AET-DP","b1","MET","MET-Whey","MET-Milk","MET-Casein","MET-Collagen","MET-Meat","MET-Soy","MET-Rice","MET-DP","b2","MONO","MONO-Whey","MONO-Milk","MONO-Casein","MONO-Collagen","MONO-Meat","MONO-Soy","MONO-DP","b3","EX","EX-RET","EX-AET","EX-MET"],"paddingInner":0,"paddingOuter":0.4875,"align":0.34},"axis":null},
     "x": {"field": "m", "type": "quantitative", "scale": {"domain": [-3, 3], "nice": false, "zero": false}, "axis": null}
    }}
  ]
 },
 {
  "width": 9, "height": 311,
  "data": {"name": "rows"}, "transform": [{"filter": "datum.shade > 0"}], "mark": {"type": "rect", "opacity": 0},
  "encoding": {
   "y": {"field":"key","type":"ordinal","scale":{"type":"band","domain":["CT","RET","RET-Whey","RET-Milk","RET-Casein","RET-Collagen","RET-Meat","RET-Soy","RET-Rice","RET-DP","AET","AET-Whey","AET-Milk","AET-Casein","AET-Soy","AET-DP","b1","MET","MET-Whey","MET-Milk","MET-Casein","MET-Collagen","MET-Meat","MET-Soy","MET-Rice","MET-DP","b2","MONO","MONO-Whey","MONO-Milk","MONO-Casein","MONO-Collagen","MONO-Meat","MONO-Soy","MONO-DP","b3","EX","EX-RET","EX-AET","EX-MET"],"paddingInner":0,"paddingOuter":0.4875,"align":0.34},"axis":null},
   "x": {"datum": 0, "type": "quantitative", "scale": {"domain": [0, 1], "nice": false, "zero": false}, "axis": {"orient": "top", "domain": true, "ticks": false, "labels": false, "title": null, "domainWidth": 1}},
   "x2": {"datum": 1}
  }
 }
]
}
